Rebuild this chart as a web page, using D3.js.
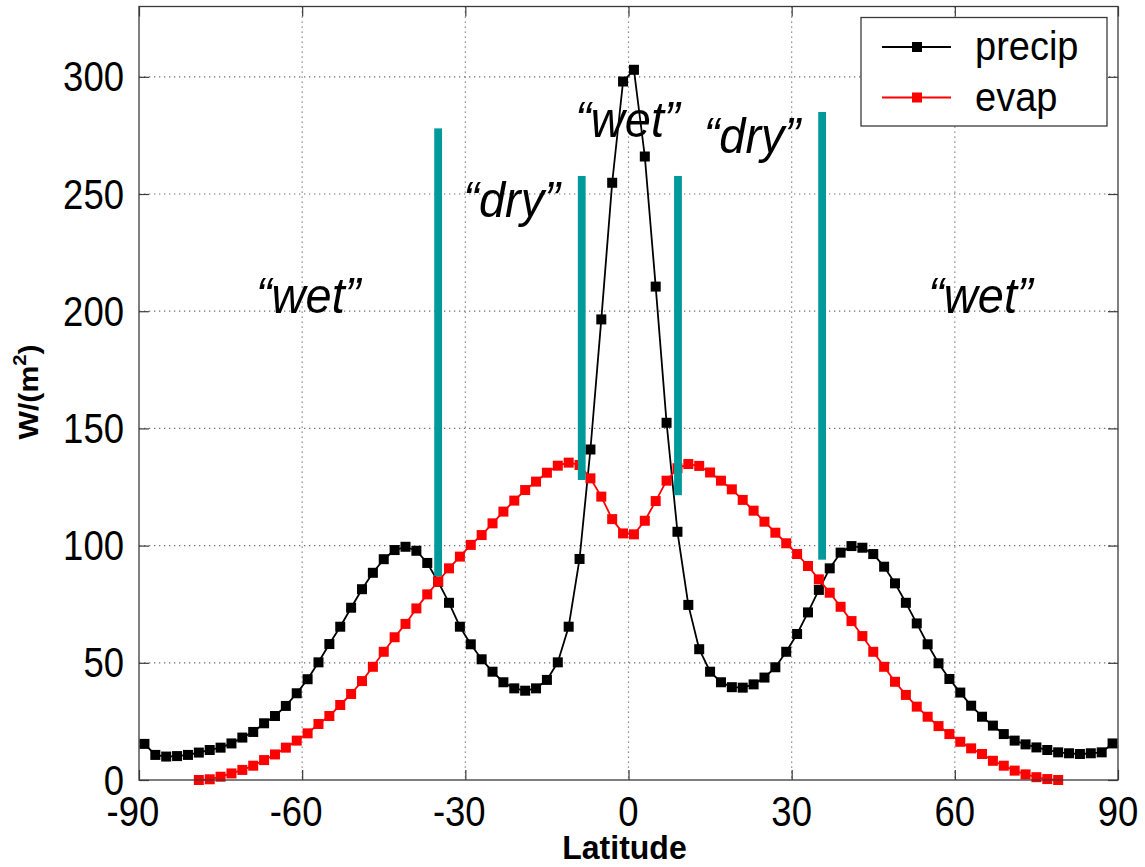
<!DOCTYPE html>
<html>
<head>
<meta charset="utf-8">
<script src="https://cdn.jsdelivr.net/npm/d3@7"></script>
<style>
  html, body { margin: 0; padding: 0; background: #fff; }
  svg { display: block; font-family: "Liberation Sans", Arial, Helvetica, sans-serif; }
</style>
</head>
<body>
<svg id="chart" width="1145" height="867"></svg>
<script>
// Zonal-mean precipitation and evaporation (W/m^2) against latitude
const latitude = [
  -89, -87, -85, -83, -81, -79, -77, -75, -73, -71,
  -69, -67, -65, -63, -61, -59, -57, -55, -53, -51,
  -49, -47, -45, -43, -41, -39, -37, -35, -33, -31,
  -29, -27, -25, -23, -21, -19, -17, -15, -13, -11,
   -9,  -7,  -5,  -3,  -1,   1,   3,   5,   7,   9,
   11,  13,  15,  17,  19,  21,  23,  25,  27,  29,
   31,  33,  35,  37,  39,  41,  43,  45,  47,  49,
   51,  53,  55,  57,  59,  61,  63,  65,  67,  69,
   71,  73,  75,  77,  79,  81,  83,  85,  87,  89
];
const precip = [
  15.4, 10.7, 10.0, 10.2, 10.7, 11.7, 12.8, 13.8, 15.6, 18.1,
  20.5, 24.2, 27.3, 31.6, 37.0, 43.0, 50.2, 58.0, 65.4, 73.5,
  81.4, 88.4, 94.2, 98.1, 99.5, 97.8, 92.6, 84.6, 75.6, 65.4,
  57.9, 51.5, 46.2, 41.7, 39.1, 38.1, 39.1, 42.7, 50.2, 65.4,
  94.3, 141.0, 196.5, 254.8, 298.0, 303.0, 266.0, 210.5, 152.4, 105.9,
  74.7, 55.8, 46.2, 41.7, 39.6, 39.4, 40.8, 43.7, 48.1, 54.7,
  62.3, 71.5, 81.1, 90.3, 97.0, 99.8, 99.1, 96.4, 91.0, 83.9,
  75.6, 66.8, 57.9, 49.8, 43.1, 37.3, 31.7, 27.0, 23.2, 19.6,
  16.8, 15.2, 13.9, 12.8, 11.8, 11.4, 11.1, 11.4, 11.8, 15.6
];
// evaporation is only defined between 79S and 79N
const evapLatitude = latitude.filter(d => Math.abs(d) <= 79);
const evap = [
  0.0, 0.3, 1.4, 2.8, 4.3, 6.1, 8.5, 10.9, 13.8, 16.8,
  19.9, 23.9, 27.3, 32.0, 36.7, 42.2, 48.3, 54.7, 60.9, 66.6,
  73.2, 79.2, 84.7, 90.3, 95.3, 100.3, 104.5, 109.5, 114.5, 119.2,
  123.7, 127.3, 131.1, 134.1, 135.4, 134.4, 128.7, 120.9, 111.3, 105.2,
  104.8, 110.6, 119.0, 127.7, 133.0, 134.8, 134.0, 131.2, 127.7, 124.0,
  119.5, 114.9, 110.2, 105.5, 101.0, 96.4, 91.3, 85.6, 79.9, 73.9,
  67.8, 61.4, 54.7, 48.3, 41.9, 36.3, 31.3, 27.0, 23.0, 19.6,
  16.3, 13.5, 11.1, 8.2, 6.1, 4.0, 2.4, 1.2, 0.4, 0.0
];

// boundaries between the wet and dry belts (latitude, lower and upper value)
const boundaryLat = [-35.0, -8.6, 9.1, 35.6];
const boundaryLow = [87, 128, 121.5, 94];
const boundaryHigh = [278, 257.7, 257.7, 285];

// belt annotations placed in data coordinates (centre latitude, baseline value)
const beltText = ["\u201Cwet\u201D", "\u201Cdry\u201D", "\u201Cwet\u201D", "\u201Cdry\u201D", "\u201Cwet\u201D"];
const beltLat = [-58.9, -21.5, -0.2, 22.7, 64.7];
const beltVal = [199.1, 240.3, 274.2, 267.4, 199.1];

const xTicks = [-90, -60, -30, 0, 30, 60, 90];
const yTicks = [0, 50, 100, 150, 200, 250, 300];
const seriesNames = ["precip", "evap"];
const seriesColors = ["#000000", "#ff0000"];

(function draw() {
  const plotLeft = 139, plotRight = 1118, plotTop = 6.5, plotBottom = 780;
  const x = d3.scaleLinear().domain([-90, 90]).range([plotLeft, plotRight]);
  const y = d3.scaleLinear().domain([0, 330]).range([plotBottom, plotTop]);

  const svg = d3.select("#chart");
  svg.append("rect").attr("width", 1145).attr("height", 867).attr("fill", "#fff");

  const axisColor = "#3a3a3a";
  const tickFont = 36.5;
  const vStretch = 1.14;

  // dotted grid
  const grid = svg.append("g");
  grid.selectAll("line.gx").data(xTicks.filter(t => t > -90 && t < 90)).join("line").attr("class", "gx")
    .attr("x1", d => x(d)).attr("x2", d => x(d)).attr("y1", plotTop).attr("y2", plotBottom)
    .attr("stroke", "#6f6f6f").attr("stroke-width", 1.2).attr("stroke-dasharray", "1.3 3.7");
  grid.selectAll("line.gy").data(yTicks.filter(t => t > 0)).join("line").attr("class", "gy")
    .attr("x1", plotLeft).attr("x2", plotRight).attr("y1", d => y(d)).attr("y2", d => y(d))
    .attr("stroke", "#6f6f6f").attr("stroke-width", 1.2).attr("stroke-dasharray", "1.3 3.7");

  // series
  const line = d3.line().x(d => x(d[0])).y(d => y(d[1]));
  const series = [
    d3.zip(latitude, precip),
    d3.zip(evapLatitude, evap)
  ];
  const mk = 10;
  series.forEach((pts, i) => {
    const g = svg.append("g");
    g.append("path").datum(pts).attr("d", line)
      .attr("fill", "none").attr("stroke", seriesColors[i]).attr("stroke-width", 1.8)
      .attr("stroke-linejoin", "round");
    g.selectAll("rect").data(pts).join("rect")
      .attr("x", d => x(d[0]) - mk / 2).attr("y", d => y(d[1]) - mk / 2)
      .attr("width", mk).attr("height", mk).attr("fill", seriesColors[i]);
  });

  // belt boundaries
  svg.append("g").selectAll("rect").data(d3.zip(boundaryLat, boundaryLow, boundaryHigh)).join("rect")
    .attr("x", d => x(d[0]) - 3.9).attr("width", 7.8)
    .attr("y", d => y(d[2])).attr("height", d => y(d[1]) - y(d[2]))
    .attr("fill", "#009a9a");

  // belt annotations
  svg.append("g").selectAll("text").data(d3.zip(beltText, beltLat, beltVal)).join("text")
    .attr("transform", d => `translate(${x(d[1])},${y(d[2])}) scale(1,1.08)`)
    .attr("text-anchor", "middle").attr("font-style", "italic")
    .attr("font-size", 47).attr("fill", "#000").text(d => d[0]);

  // axes with inward ticks on all four sides
  const tickLen = 10;
  function styleAxis(g) {
    g.select(".domain").remove();
    g.selectAll(".tick line").attr("stroke", axisColor).attr("stroke-width", 1.2);
  }
  const xAxisB = svg.append("g").attr("transform", `translate(0,${plotBottom})`)
    .call(d3.axisBottom(x).tickValues(xTicks).tickSize(-tickLen).tickFormat(d3.format("d")));
  styleAxis(xAxisB);
  xAxisB.selectAll(".tick text").remove();
  const xAxisT = svg.append("g").attr("transform", `translate(0,${plotTop})`)
    .call(d3.axisTop(x).tickValues(xTicks).tickSize(-tickLen).tickFormat(""));
  styleAxis(xAxisT);
  const yAxisL = svg.append("g").attr("transform", `translate(${plotLeft},0)`)
    .call(d3.axisLeft(y).tickValues(yTicks).tickSize(-tickLen).tickFormat(""));
  styleAxis(yAxisL);
  const yAxisR = svg.append("g").attr("transform", `translate(${plotRight},0)`)
    .call(d3.axisRight(y).tickValues(yTicks).tickSize(-tickLen).tickFormat(""));
  styleAxis(yAxisR);

  svg.append("rect").attr("x", plotLeft).attr("y", plotTop)
    .attr("width", plotRight - plotLeft).attr("height", plotBottom - plotTop)
    .attr("fill", "none").attr("stroke", axisColor).attr("stroke-width", 1.3);

  // tick labels: digits centred on the tick, minus sign hanging to the left
  const xLab = svg.append("g");
  xTicks.forEach(t => {
    const tx = xLab.append("text").attr("font-size", tickFont).text(String(Math.abs(t)));
    const w = tx.node().getComputedTextLength();
    tx.text(String(t)).attr("text-anchor", "end")
      .attr("transform", `translate(${x(t) + w / 2},${plotBottom + 46}) scale(1,${vStretch})`);
  });
  const yLab = svg.append("g");
  yTicks.forEach(t => {
    yLab.append("text").attr("font-size", tickFont).attr("text-anchor", "end")
      .attr("transform", `translate(${plotLeft - 15},${y(t) + 14.5}) scale(1,${vStretch})`)
      .text(String(t));
  });

  // axis titles
  svg.append("text").attr("text-anchor", "middle").attr("font-weight", "bold").attr("font-size", 32)
    .attr("transform", `translate(${(plotLeft + plotRight) / 2 - 4},859) scale(1,1.06)`)
    .text("Latitude");
  const yTitle = svg.append("text").attr("text-anchor", "middle").attr("font-weight", "bold").attr("font-size", 27)
    .attr("transform", "translate(38,392) rotate(-90) scale(1.12,1)");
  yTitle.append("tspan").text("W/(m");
  yTitle.append("tspan").attr("font-size", 18).attr("dy", -12).text("2");
  yTitle.append("tspan").attr("dy", 12).text(")");

  // legend
  const lg = svg.append("g").attr("transform", "translate(861,17.5)");
  lg.append("rect").attr("width", 246).attr("height", 108.5).attr("fill", "#fff")
    .attr("stroke", axisColor).attr("stroke-width", 1.3);
  seriesNames.forEach((name, i) => {
    const cy = 29.5 + i * 50.5;
    lg.append("line").attr("x1", 21).attr("x2", 90).attr("y1", cy).attr("y2", cy)
      .attr("stroke", seriesColors[i]).attr("stroke-width", 1.8);
    lg.append("rect").attr("x", 56 - mk / 2).attr("y", cy - mk / 2).attr("width", mk).attr("height", mk)
      .attr("fill", seriesColors[i]);
    lg.append("text").attr("font-size", 38)
      .attr("transform", `translate(114,${cy + 13}) scale(1,1.05)`).text(name);
  });
})();
</script>
</body>
</html>
